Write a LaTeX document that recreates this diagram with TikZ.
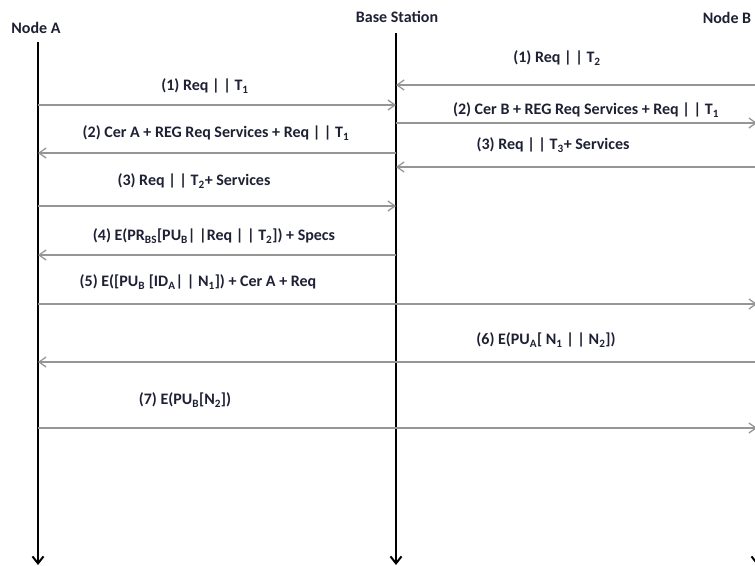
\documentclass[tikz,border=0pt]{standalone}
\usepackage{fontspec}
\setmainfont{Carlito}
\usetikzlibrary{arrows.meta}
\definecolor{msggray}{RGB}{150,150,150}
\definecolor{txtcol}{RGB}{30,32,52}
\newcommand{\sub}[1]{\textsubscript{#1}}
\tikzset{
  lifeline/.style={line width=2.6pt, -{Straight Barb[length=7pt,width=11pt,line width=2pt]}},
  msg/.style={draw=msggray, line width=1.8pt, -{Straight Barb[length=7pt,width=10pt,line width=1.3pt]}},
  lbl/.style={text=txtcol, font=\bfseries\fontsize{16}{18}\selectfont, inner sep=1pt},
  hdr/.style={text=txtcol, font=\bfseries\fontsize{16}{18}\selectfont, inner sep=1pt}
}
\begin{document}
\begin{tikzpicture}[x=1pt, y=-1pt]

\clip (0, 0) rectangle (755, 565);
\useasboundingbox (0, 0) rectangle (755, 565);

% headers
\node[hdr] (A) at (36, 28) {Node A};
\node[hdr] (BS) at (397, 17) {Base Station};
\node[hdr] (B) at (727, 18) {Node B};

% lifelines
\coordinate (Atop) at (38, 42);
\coordinate (Abot) at (38, 565);
\coordinate (BStop) at (396, 33);
\coordinate (BSbot) at (396, 565);
\coordinate (Btop) at (757, 33);
\coordinate (Bbot) at (757, 565);
\draw[lifeline] (Atop) -- (Abot);
\draw[lifeline] (BStop) -- (BSbot);
\draw[lifeline] (Btop) -- (Bbot);

% message rows
\coordinate (r1) at (0, 85);
\coordinate (r2) at (0, 105);
\coordinate (r3) at (0, 123);
\coordinate (r4) at (0, 153);
\coordinate (r5) at (0, 167);
\coordinate (r6) at (0, 206);
\coordinate (r7) at (0, 255);
\coordinate (r8) at (0, 304);
\coordinate (r9) at (0, 362);
\coordinate (r10) at (0, 428);

% messages
\draw[msg] (Btop |- r1) -- (BStop |- r1);
\draw[msg] (Atop |- r2) -- (BStop |- r2);
\draw[msg] (BStop |- r3) -- (Btop |- r3);
\draw[msg] (BStop |- r4) -- (Atop |- r4);
\draw[msg] (Btop |- r5) -- (BStop |- r5);
\draw[msg] (Atop |- r6) -- (BStop |- r6);
\draw[msg] (BStop |- r7) -- (Atop |- r7);
\draw[msg] (Atop |- r8) -- (Btop |- r8);
\draw[msg] (Btop |- r9) -- (Atop |- r9);
\draw[msg] (Atop |- r10) -- (Btop |- r10);

% labels
\node[lbl] (l1) at (557, 58) {(1) Req | | T\sub{2}};
\node[lbl] (l2) at (205, 86) {(1) Req | | T\sub{1}};
\node[lbl] (l3) at (586, 110) {(2) Cer B + REG Req Services + Req | | T\sub{1}};
\node[lbl] (l4) at (216, 133) {(2) Cer A + REG Req Services + Req | | T\sub{1}};
\node[lbl] (l5) at (553, 145) {(3) Req | | T\sub{3}+ Services};
\node[lbl] (l6) at (194, 181) {(3) Req | | T\sub{2}+ Services};
\node[lbl] (l7) at (214, 236) {(4) E(PR\sub{BS}[PU\sub{B}| |Req | | T\sub{2}]) + Specs};
\node[lbl] (l8) at (198, 282) {(5) E([PU\sub{B} [ID\sub{A}| | N\sub{1}]) + Cer A + Req};
\node[lbl] (l9) at (546, 340) {(6) E(PU\sub{A}[ N\sub{1} | | N\sub{2}])};
\node[lbl] (l10) at (185, 400) {(7) E(PU\sub{B}[N\sub{2}])};

\end{tikzpicture}
\end{document}
